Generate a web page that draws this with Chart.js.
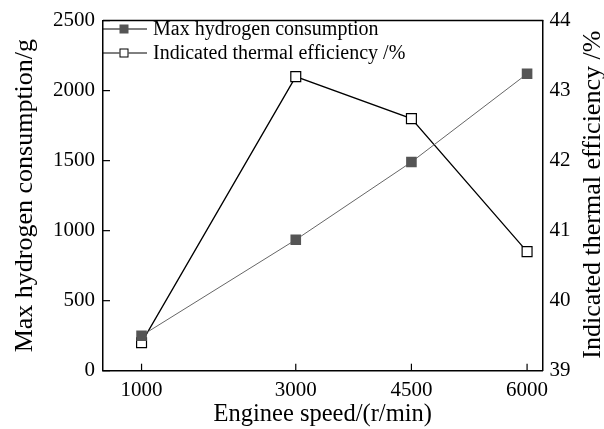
<!DOCTYPE html>
<html><head><meta charset="utf-8">
<script src="https://cdn.jsdelivr.net/npm/chart.js@4/dist/chart.umd.min.js"></script>
<style>html,body{margin:0;padding:0;background:#fff}#wrap{width:604px;height:429px;position:relative}</style>
</head><body><div id="wrap"><canvas id="c"></canvas></div>
<script>
const speeds = [1000, 3000, 4500, 6000];
const hydrogen = [250, 935, 1490, 2120];
const efficiency = [39.4, 43.2, 42.6, 40.7];
const leftTicks = [0, 500, 1000, 1500, 2000, 2500];
const rightTicks = [39, 40, 41, 42, 43, 44];
const seriesNames = ['Max hydrogen consumption', 'Indicated thermal efficiency /%'];
const xTitle = 'Enginee speed/(r/min)';
const yTitle = 'Max hydrogen consumption/g';
const y1Title = 'Indicated thermal efficiency /%';

const FONT = "'Liberation Serif','Times New Roman',serif";
const FILL = '#555555';
const plain = v => String(v);

const decor = {
  id: 'decor',
  afterDraw(chart) {
    const {ctx, chartArea: a, scales} = chart;
    ctx.save();
    ctx.strokeStyle = '#000';
    ctx.lineWidth = 1.5;
    // top border
    ctx.beginPath(); ctx.moveTo(a.left, a.top); ctx.lineTo(a.right + 0.75, a.top); ctx.stroke();
    // inward ticks
    ctx.lineWidth = 1.2;
    speeds.forEach(v => {
      const x = scales.x.getPixelForValue(v);
      ctx.beginPath(); ctx.moveTo(x, a.bottom); ctx.lineTo(x, a.bottom - 7); ctx.stroke();
    });
    leftTicks.forEach(v => {
      const y = scales.y.getPixelForValue(v);
      ctx.beginPath(); ctx.moveTo(a.left, y); ctx.lineTo(a.left + 7, y); ctx.stroke();
    });
    // legend
    const rows = [29, 53];
    rows.forEach((ry, i) => {
      ctx.strokeStyle = '#000'; ctx.lineWidth = 1;
      ctx.beginPath(); ctx.moveTo(a.left, ry); ctx.lineTo(a.left + 44, ry); ctx.stroke();
      const mx = a.left + 21, s = 9;
      if (i === 0) {
        ctx.fillStyle = FILL; ctx.fillRect(mx - s/2, ry - s/2, s, s);
      } else {
        ctx.fillStyle = '#fff'; ctx.fillRect(mx - s/2, ry - s/2, s, s);
        ctx.strokeRect(mx - s/2 + 0.5, ry - s/2 + 0.5, s - 1, s - 1);
      }
      ctx.fillStyle = '#000';
      ctx.font = '20px ' + FONT;
      ctx.textAlign = 'left'; ctx.textBaseline = 'middle';
      ctx.fillText(seriesNames[i], a.left + 50, ry + 1);
    });
    // right title
    ctx.translate(593, (a.top + a.bottom) / 2 - 1);
    ctx.rotate(-Math.PI / 2);
    ctx.font = '26px ' + FONT;
    ctx.textAlign = 'center'; ctx.textBaseline = 'middle';
    ctx.fillStyle = '#000';
    ctx.fillText(y1Title, 0, 0);
    ctx.restore();
  }
};

new Chart(document.getElementById('c'), {
  type: 'line',
  data: {
    datasets: [
      {
        label: seriesNames[0],
        data: speeds.map((s, i) => ({x: s, y: hydrogen[i]})),
        yAxisID: 'y',
        borderColor: '#666',
        borderWidth: 1,
        pointStyle: 'rect',
        pointRadius: 7.5,
        pointBackgroundColor: FILL,
        pointBorderColor: FILL,
        pointBorderWidth: 0,
        tension: 0
      },
      {
        label: seriesNames[1],
        data: speeds.map((s, i) => ({x: s, y: efficiency[i]})),
        yAxisID: 'y1',
        borderColor: '#000',
        borderWidth: 1.3,
        pointStyle: 'rect',
        pointRadius: 7,
        pointBackgroundColor: '#fff',
        pointBorderColor: '#000',
        pointBorderWidth: 1.2,
        tension: 0
      }
    ]
  },
  options: {
    responsive: true,
    maintainAspectRatio: false,
    animation: false,
    layout: {padding: {top: 16, left: 0, right: 0, bottom: 0}},
    plugins: {legend: {display: false}, tooltip: {enabled: false}},
    scales: {
      x: {
        type: 'linear', position: 'bottom', min: 500, max: 6200,
        afterBuildTicks: s => { s.ticks = speeds.map(v => ({value: v})); },
        afterFit: s => { s.height = 58.3; },
        grid: {display: false, drawTicks: false},
        border: {display: true, color: '#000', width: 1.5},
        ticks: {color: '#000', font: {family: FONT, size: 21}, padding: 7, maxRotation: 0, autoSkip: false, callback: plain},
        title: {display: true, text: xTitle, color: '#000', font: {family: FONT, size: 24.5, lineHeight: 1.2}, padding: {top: 0, bottom: 0}}
      },
      y: {
        type: 'linear', position: 'left', min: 0, max: 2500,
        afterBuildTicks: s => { s.ticks = leftTicks.map(v => ({value: v})); },
        afterFit: s => { s.width = 103; },
        grid: {display: false, drawTicks: false},
        border: {display: true, color: '#000', width: 1.5},
        ticks: {color: '#000', font: {family: FONT, size: 21}, padding: 8, callback: plain},
        title: {display: true, text: yTitle, color: '#000', font: {family: FONT, size: 26, lineHeight: 1.2}, padding: {top: 10, bottom: 0}}
      },
      y1: {
        type: 'linear', position: 'right', min: 39, max: 44,
        afterBuildTicks: s => { s.ticks = rightTicks.map(v => ({value: v})); },
        afterFit: s => { s.width = 61.5; },
        grid: {display: false, drawTicks: false},
        border: {display: true, color: '#000', width: 1.5},
        ticks: {color: '#000', font: {family: FONT, size: 21}, padding: 7, callback: plain}
      }
    }
  },
  plugins: [decor]
});
</script>
</body></html>
